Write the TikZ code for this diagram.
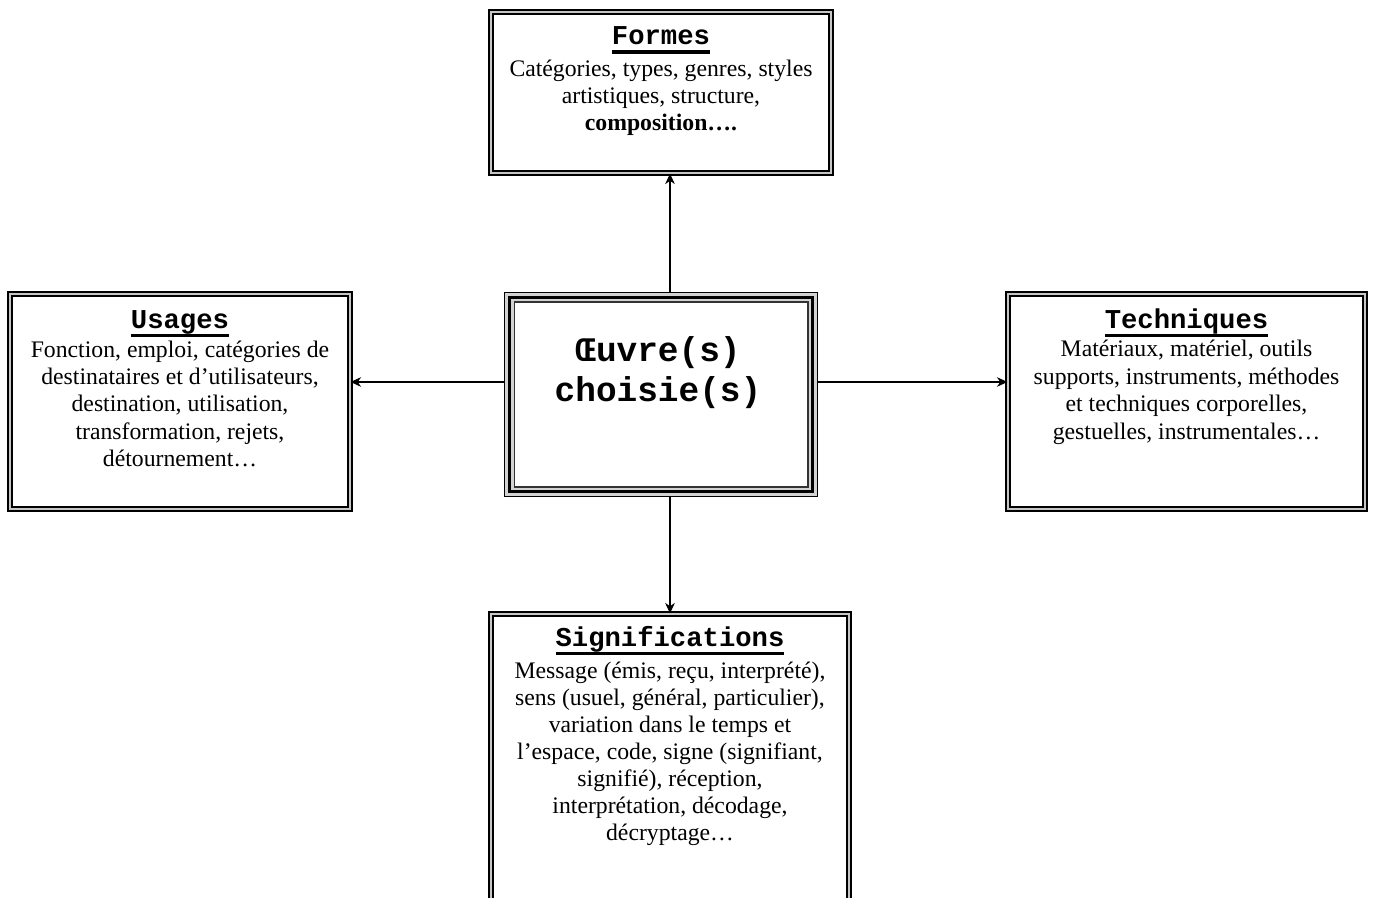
\documentclass[tikz,border=0pt]{standalone}
\usepackage{fontspec}
\setmainfont{Liberation Serif}
\newfontfamily\crfont{Liberation Mono}
\usetikzlibrary{arrows.meta,calc}
\newcommand\ttl[1]{\setbox0\hbox{#1}\dp0=0pt\vtop{\box0\kern3pt\hrule height 1.9pt}}
\begin{document}
\begin{tikzpicture}[x=0.02cm,y=-0.02cm,
  dbox/.style={draw=black, line width=0.7pt, double=gray!45, double distance=1.5pt, fill=white, inner sep=0pt},
  ttlf/.style={font=\crfont\bfseries\fontsize{15.5}{18}\selectfont, inner sep=0pt, anchor=base},
  bodyf/.style={font=\fontsize{13.5}{15.6}\selectfont, align=center, inner sep=0pt, anchor=base},
  ctrf/.style={font=\crfont\bfseries\fontsize{19.6}{22.8}\selectfont, align=center, inner sep=0pt, anchor=base},
  arr/.style={line width=0.6pt, -{Stealth[length=6pt,width=5.5pt]}}]
\useasboundingbox (0,0) rectangle (1373,898);
% boxes
\node[dbox, minimum width=6.8cm, minimum height=3.22cm] (formes) at (661,92.5) {};
\node[dbox, minimum width=6.8cm, minimum height=4.3cm] (usages) at (180,401.5) {};
\node[dbox, minimum width=7.14cm, minimum height=4.3cm] (techn) at (1186.5,401.5) {};
\node[dbox, minimum width=7.16cm, minimum height=5.74cm] (sig) at (670,757.5) {};
% central box
\node[draw=black, line width=0.6pt, fill=gray!35, inner sep=0pt, minimum width=6.26cm, minimum height=4.08cm] (ctrout) at (661,394.5) {};
\node[draw=black, line width=1.7pt, fill=gray!35, inner sep=0pt, minimum width=6.06cm, minimum height=3.88cm] (ctr) at (661,394.5) {};
\node[draw=black!80, line width=0.6pt, fill=white, inner sep=0pt, minimum width=5.88cm, minimum height=3.7cm] (ctrin) at (661,394.5) {};
% texts (base anchor = baseline of the last line)
\node[ctrf] (ctrtxt) at (658,401.7) {Œuvre(s)\\choisie(s)};
\node[ttlf] (formest) at (661,45) {\ttl{Formes}};
\node[bodyf] (formesb) at (661,131) {Catégories, types, genres, styles\\artistiques, structure,\\\textbf{composition….}};
\node[ttlf] (usagest) at (180,328.3) {\ttl{Usages}};
\node[bodyf] (usagesb) at (180,466.7) {Fonction, emploi, catégories de\\destinataires et d’utilisateurs,\\destination, utilisation,\\transformation, rejets,\\détournement…};
\node[ttlf] (techt) at (1186.5,328.3) {\ttl{Techniques}};
\node[bodyf] (techb) at (1186.5,439.2) {Matériaux, matériel, outils\\supports, instruments, méthodes\\et techniques corporelles,\\gestuelles, instrumentales…};
\node[ttlf] (sigt) at (670,646.7) {\ttl{Significations}};
\node[bodyf, font=\fontsize{13.5}{15.3}\selectfont] (sigb) at (670,840) {Message (émis, reçu, interprété),\\sens (usuel, général, particulier),\\variation dans le temps et\\l’espace, code, signe (signifiant,\\signifié), réception,\\interprétation, décodage,\\décryptage…};
% connectors
\coordinate (hy) at (0,382);
\draw[arr] (ctrout.north -| sig.north) -- (formes.south -| sig.north);
\draw[arr] (ctrout.south -| sig.north) -- (sig.north);
\draw[arr] (ctrout.west |- hy) -- (usages.east |- hy);
\draw[arr] (ctrout.east |- hy) -- (techn.west |- hy);
\end{tikzpicture}
\end{document}
